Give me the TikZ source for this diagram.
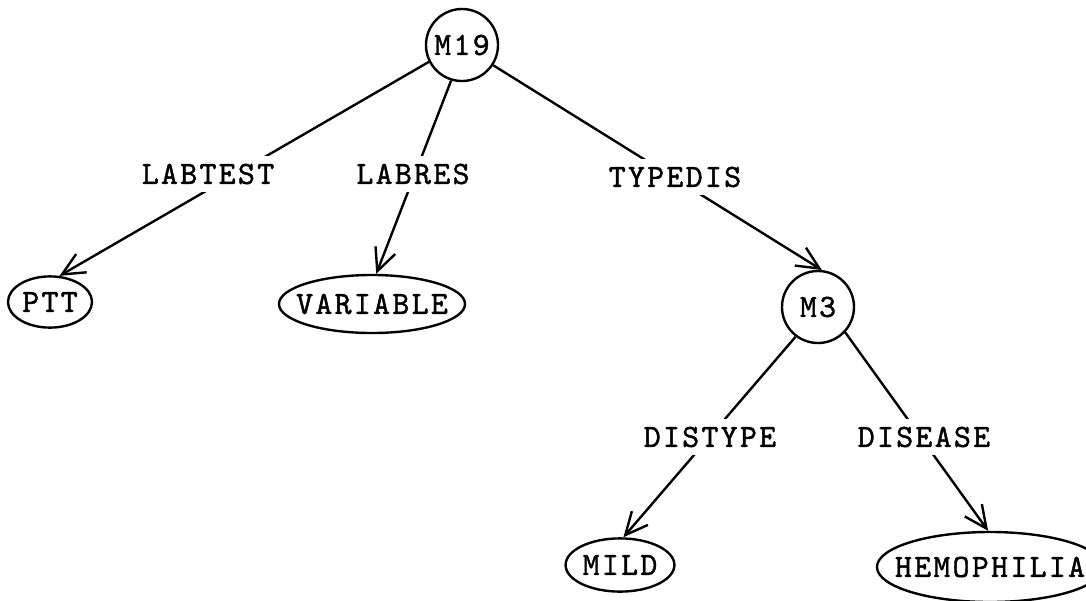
\documentclass[tikz,border=0pt]{standalone}
\usepackage{fontspec}
\newfontfamily\netfont{lmmono10-regular.otf}[LetterSpace=7, FakeBold=1.2]
\usetikzlibrary{arrows.meta, positioning, shapes.geometric}

% text inside a base node, so that the ellipse keeps its given size
\newcommand{\basetext}[1]{\makebox[0pt]{#1}}

\begin{document}
\begin{tikzpicture}[x=0.025cm, y=-0.025cm, line width=1.7pt,
        every node/.style={font=\netfont\fontsize{23}{27}\selectfont},
        molnode/.style={draw, circle, minimum size=1.8cm, inner sep=0pt},
        basenode/.style={draw, ellipse, inner sep=0pt},
        arclabel/.style={fill=white, inner xsep=2pt, inner ysep=5.5pt}]
    \useasboundingbox (0,0) rectangle (1086,600);

    \node (M19) [molnode] at (462,45) {M19};
    \node (M3) [molnode] at (818,307) {M3};

    \node (ptt) [basenode, minimum width=2.1cm, minimum height=1.28cm] at (50,302) {\basetext{PTT}};
    \node (variable) [basenode, minimum width=4.65cm, minimum height=1.45cm] at (372,304) {\basetext{VARIABLE}};
    \node (mild) [basenode, minimum width=2.72cm, minimum height=1.33cm] at (620,565) {\basetext{MILD}};
    \node (hemophilia) [basenode, minimum width=5.65cm, minimum height=1.75cm] at (990,567) {\basetext{HEMOPHILIA}};

    \path [-{Straight Barb[length=16pt, width=15pt]}]
        (M19.207) edge (ptt.70)
        (M19.253) edge (variable.82)
        (M19.327) edge (M3.84)
        (M3.233) edge (mild.83)
        (M3.317) edge (hemophilia.93);

    % arc labels sit over the arcs
    \node (labtest) [arclabel] at (208,174) {LABTEST};
    \node (labres) [arclabel] at (413,174) {LABRES};
    \node (typedis) [arclabel] at (675,177) {TYPEDIS};
    \node (distype) [arclabel] at (710,437) {DISTYPE};
    \node (disease) [arclabel] at (924,437) {DISEASE};
\end{tikzpicture}
\end{document}
